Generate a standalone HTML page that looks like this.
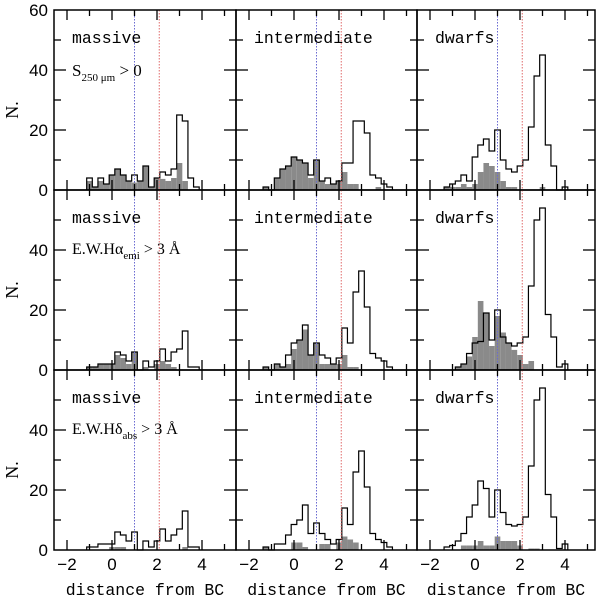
<!DOCTYPE html>
<html><head><meta charset="utf-8"><style>
html,body{margin:0;padding:0;background:#fff;}
svg{display:block;}
.tk{font-family:"Liberation Sans",sans-serif;font-size:17px;fill:#000;}
.mono{font-family:"Liberation Mono",monospace;font-size:16.5px;fill:#000;}
.serif{font-family:"Liberation Serif",serif;font-size:18px;fill:#000;}
</style></head><body>
<svg id="chart" width="600" height="600" viewBox="0 0 600 600"></svg>
<script>
// bins centered at start + i*0.25
const panelNames = ["massive","intermediate","dwarfs"];
const rowConditions = ["S250","Halpha","Hdelta"];
const binWidth = 0.25;
const p1Start = -1.0;
const p1Open = [4,1,4,2,5,7,5,3,5,3,8,1,4,6,5,7,25,23,4,1];
const p1Gray = [3,1,3,2,5,7,5,3,2.5,3,8,1,4,3.7,3,4,9,3,0,0];
const p2Start = -1.25;
const p2Open = [1,0,4,7,8,11,10,9,5,10,3,4,2,3,9,9,23,23,19,5,4,2,1];
const p2Gray = [1,0,4,7,8,11,10,9,4,10,3,2,2,3,6,2,2,0,0,0,1,0,0];
const p3Start = -1.25;
const p3Open = [1,2,3,5,3,11,15,17,13,20,10,7,6,8,10,21,38,45,15,8,0,1];
const p3Gray = [1,1,1,2,1,2,6,9,8,6,3,1,1,0,0,0,0,1,0,0,0,0];
const p4Start = -1.0;
const p4Open = [1,1,2,2,2,6,5,3,6,0,3,1,3,7,3,6,7,13,1,1];
const p4Gray = [1,1,2,2,2,5,4,2,6,0,1,0,2,3,2,1,0,0,0,0];
const p5Start = -1.25;
const p5Open = [1,0,2,1,5,9,10,15,5,9,5,4,2,4,14,9,26,33,21,5.5,4,3,1];
const p5Gray = [1,0,2,1,2,7,10,13.5,5,9,2,2,2,2,5,1,1,0,0,0,0,0,0];
const p6Start = -0.75;
const p6Open = [1,2,5.5,9,9.5,19,10,20,11,9,8,9,11,28,50,54,18.5,11,1,2];
const p6Gray = [1,2,4.5,11,23,19,8,18,12.5,9,6.7,5,2,3,0,0,0,0,0,0];
const p7Start = -1.0;
const p7Open = [1,1,2,2,2,6,5,3,6,0,3,1,3,7,3,5,7,13,1,1];
const p7Gray = [0,0,0,0,1,1,1,0,0,0,0,0,0,0,0,0,0,1,0,0];
const p8Start = -1.25;
const p8Open = [1,0,2,2,5,8.5,10,15,5.5,9,5.5,3.5,2,3.5,14,8.5,26,33,21,5.5,3.5,2.5,1];
const p8Gray = [1,0,0,0,0,2.5,2.5,1,0,0,2,2,0,2.5,4.5,3.5,2.5,0,0,0,0,0,0];
const p9Start = -1.25;
const p9Open = [1,1.5,3,5.5,11,15,23,20.5,11,20,12.5,8.5,8,8.5,11,28,50,54,18.5,11,0.5,2];
const p9Gray = [0,0,0,1.5,1.5,1.5,3,1.5,1.5,4.5,3,3,3,1.5,0,0.5,0.5,0,0,0,0,0];
const xTicks = [-2,-1,0,1,2,3,4,5];
const xTickLabels = ["−2","0","2","4"];
const xLabelValues = [-2,0,2,4];
const yTicks = [10,20,30,40,50];
const blueLine = 1.0, redLine = 2.1;

const panels = [
 [p1Start,p1Open,p1Gray],[p2Start,p2Open,p2Gray],[p3Start,p3Open,p3Gray],
 [p4Start,p4Open,p4Gray],[p5Start,p5Open,p5Gray],[p6Start,p6Open,p6Gray],
 [p7Start,p7Open,p7Gray],[p8Start,p8Open,p8Gray],[p9Start,p9Open,p9Gray]];

const NS="http://www.w3.org/2000/svg";
const svg=document.getElementById('chart');
const colL=[54,236,417], colW=[182,181,178];
const rowT=[10,190,370], rowH=180;
function mk(tag,attrs,parent){const e=document.createElementNS(NS,tag);for(const k in attrs)e.setAttribute(k,attrs[k]);(parent||svg).appendChild(e);return e;}

for(let r=0;r<3;r++){for(let c=0;c<3;c++){
  const L=colL[c],T=rowT[r],W=colW[c],B=T+rowH;
  const sx=v=>L+58+v*22.5;
  const sy=v=>B-v*3;
  const g=mk('g',{});
  
  
  const [st,open,gray]=panels[r*3+c];
  gray.forEach((v,i)=>{ if(v<=0)return;
    const x0=sx(st+i*binWidth-binWidth/2), x1=sx(st+i*binWidth+binWidth/2);
    const rc=mk('rect',{x:x0,y:sy(v),width:x1-x0,height:B-sy(v),fill:'#8a8a8a'},g);
    
    
  });
  let d='M'+sx(st-binWidth/2)+','+B;
  open.forEach((v,i)=>{const x0=sx(st+i*binWidth-binWidth/2),x1=sx(st+i*binWidth+binWidth/2);d+=' L'+x0+','+sy(v)+' L'+x1+','+sy(v);});
  d+=' L'+sx(st+(open.length-0.5)*binWidth)+','+B;
  const p=mk('path',{d:d,fill:'none',stroke:'#000','stroke-width':1.2},g);
  
  
  const bl=mk('line',{x1:sx(blueLine),x2:sx(blueLine),y1:T,y2:B,stroke:'#6a6ad0','stroke-width':1,'stroke-dasharray':'1.5,1.5'},g);
  
  
  const rl=mk('line',{x1:sx(redLine),x2:sx(redLine),y1:T,y2:B,stroke:'#e06a6a','stroke-width':1,'stroke-dasharray':'1.5,1.5'},g);
  
  
  xTicks.forEach(v=>{const x=sx(v);if(x<=L+1||x>=L+W-1)return;const len=(v%2===0)?10:6;
    mk('line',{x1:x,x2:x,y1:B,y2:B-len,stroke:'#000','stroke-width':1.3},g);
    mk('line',{x1:x,x2:x,y1:T,y2:T+len,stroke:'#000','stroke-width':1.3},g);});
  yTicks.forEach(v=>{const y=sy(v);const len=(v%20===0)?12:7;
    mk('line',{x1:L,x2:L+len,y1:y,y2:y,stroke:'#000','stroke-width':1.3},g);
    mk('line',{x1:L+W,x2:L+W-len,y1:y,y2:y,stroke:'#000','stroke-width':1.3},g);});
  const fr=mk('rect',{x:L,y:T,width:W,height:rowH,fill:'none',stroke:'#000','stroke-width':1.5},g);
  
  
  const t=mk('text',{x:L+18,y:T+33,class:'mono'},g);
  t.textContent=panelNames[c];
  
  
  if(r===2){
    xLabelValues.forEach((v,i)=>{const tt=mk('text',{x:sx(v),y:570,class:'tk','text-anchor':'middle'});tt.textContent=xTickLabels[i];
      
      });
    const xt=mk('text',{x:L+W/2,y:595,class:'mono','text-anchor':'middle'});
    xt.textContent='distance from BC';
    
    
  }
}
  const yl=(r===0)?[0,20,40,60]:[0,20,40];
  yl.forEach(v=>{const tt=mk('text',{x:48,y:rowT[r]+rowH-v*3+6,class:'tk','text-anchor':'end'});tt.textContent=v;
    
    });
  const nt=mk('text',{x:0,y:0,class:'serif','text-anchor':'middle',transform:'translate(18,'+(rowT[r]+100)+') rotate(-90)'});
  nt.textContent='N.';
  
  
}
</script>
<div style="position:absolute;left:0;top:0;width:600px;height:600px;pointer-events:none;">
<svg width="600" height="600" style="position:absolute;left:0;top:0">
<text x="72" y="76" style="font-family:'Liberation Serif',serif;font-size:17px">S<tspan font-size="11" dy="5">250 μm</tspan><tspan dy="-5">  &gt;  0</tspan></text>
<text x="72" y="254" style="font-family:'Liberation Serif',serif;font-size:16px">E.W.Hα<tspan font-size="11" dy="5">emi</tspan><tspan dy="-5">  &gt;  3 Å</tspan></text>
<text x="72" y="434" style="font-family:'Liberation Serif',serif;font-size:16px">E.W.Hδ<tspan font-size="11" dy="5">abs</tspan><tspan dy="-5">  &gt;  3 Å</tspan></text>
</svg></div>
</body></html>
